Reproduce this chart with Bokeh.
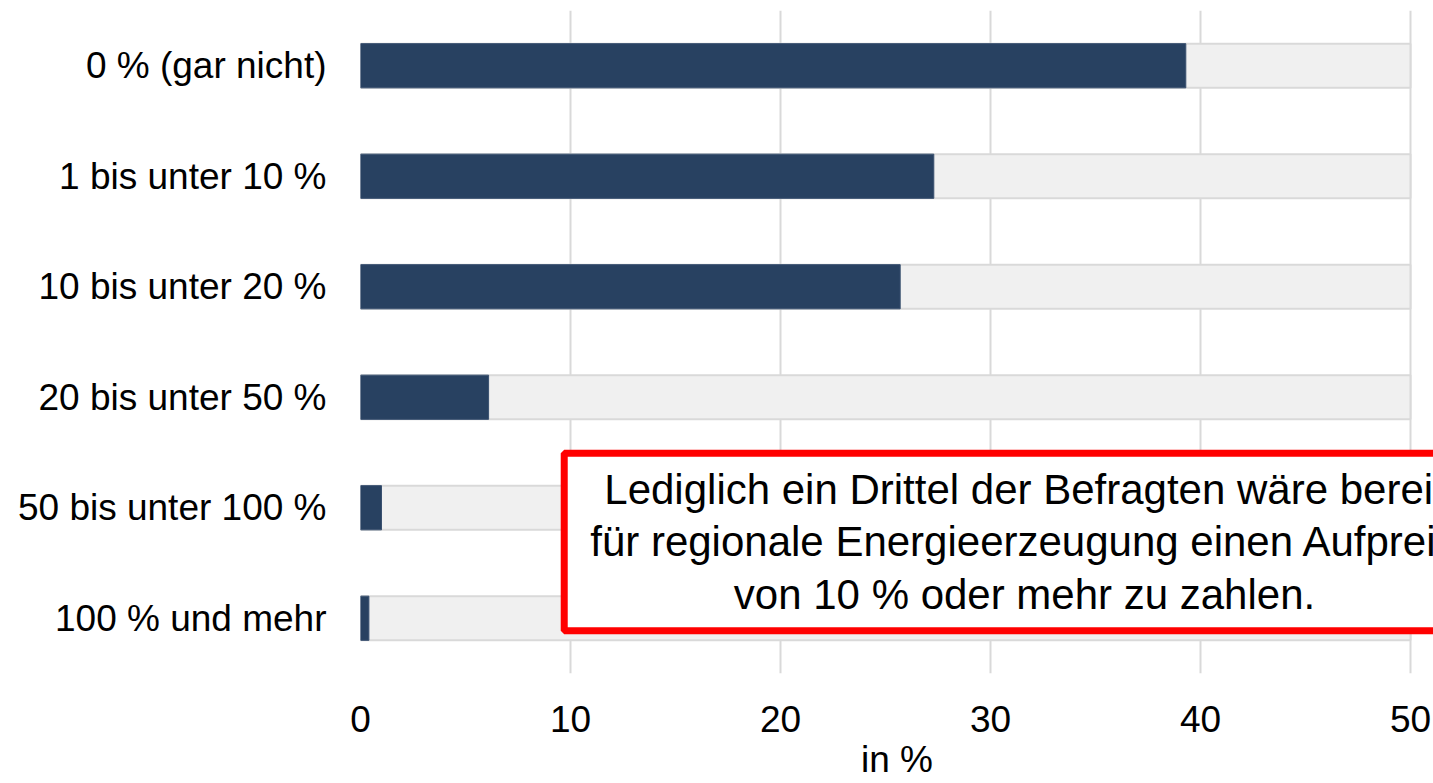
from bokeh.plotting import figure
from bokeh.models import FactorRange, Range1d, Label, FixedTicker
from bokeh.embed import file_html
from bokeh.resources import INLINE

categories = ["0 % (gar nicht)", "1 bis unter 10 %", "10 bis unter 20 %",
              "20 bis unter 50 %", "50 bis unter 100 %", "100 % und mehr"]
values = [39.3, 27.3, 25.7, 6.1, 1.0, 0.4]
full_scale = [50, 50, 50, 50, 50, 50]
x_ticks = [0, 10, 20, 30, 40, 50]
x_label = "in %"
note = ("Lediglich ein Drittel der Befragten wäre bereit\n"
        "für regionale Energieerzeugung einen Aufpreis\n"
        "von 10 % oder mehr zu zahlen.")

FONT = "Liberation Sans"

p = figure(width=1433, height=783, output_backend="svg", toolbar_location=None,
           y_range=FactorRange(factors=list(reversed(categories))),
           x_range=Range1d(0, 51.095))
p.min_border_left = 360
p.min_border_right = 0
p.min_border_top = 10
p.min_border_bottom = 110
p.outline_line_color = None
p.background_fill_color = "white"

# background full-scale bars
p.hbar(y=categories, left=0, right=full_scale, height=0.4,
       fill_color="#f0f0f0", line_color="#d9d9d9", line_width=2)
# value bars
p.hbar(y=categories, left=0, right=values, height=0.4,
       fill_color="#284161", line_color="#3a5170", line_width=1)

# grid
p.xgrid.ticker = FixedTicker(ticks=x_ticks)
p.xgrid.grid_line_color = "#d9d9d9"
p.xgrid.grid_line_width = 2
p.ygrid.grid_line_color = None

# x axis
p.xaxis.ticker = FixedTicker(ticks=x_ticks)
p.xaxis.axis_line_color = None
p.xaxis.major_tick_line_color = None
p.xaxis.minor_tick_line_color = None
p.xaxis.major_label_text_font = FONT
p.xaxis.major_label_text_font_size = "37px"
p.xaxis.major_label_text_color = "black"
p.xaxis.major_label_standoff = 26
p.xaxis.axis_label = x_label
p.xaxis.axis_label_text_font = FONT
p.xaxis.axis_label_text_font_size = "37px"
p.xaxis.axis_label_text_font_style = "normal"
p.xaxis.axis_label_text_color = "black"
p.xaxis.axis_label_standoff = 4

# y axis
p.yaxis.axis_line_color = None
p.yaxis.major_tick_line_color = None
p.yaxis.minor_tick_line_color = None
p.yaxis.major_label_text_font = FONT
p.yaxis.major_label_text_font_size = "37px"
p.yaxis.major_label_text_color = "black"
p.yaxis.major_label_standoff = 28

# annotation box
lab = Label(x=31.62, y=1.19, text=note, text_align="center", text_baseline="middle",
            text_font=FONT, text_font_size="42px", text_color="black",
            text_line_height=1.11,
            background_fill_color="white",
            border_line_color="#ff0000", border_line_width=7,
            padding=(26, 26, 13, 13))
p.add_layout(lab)

open("out.html", "w").write(file_html(p, INLINE))
